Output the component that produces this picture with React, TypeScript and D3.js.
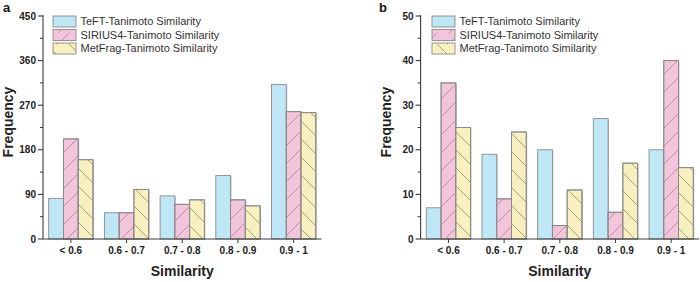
import React from "react";
import * as d3 from "d3";

const categories = ["< 0.6", "0.6 - 0.7", "0.7 - 0.8", "0.8 - 0.9", "0.9 - 1"];
const seriesNames = ["TeFT-Tanimoto Similarity", "SIRIUS4-Tanimoto Similarity", "MetFrag-Tanimoto Similarity"];
const teftA = [82, 53, 87, 128, 312];
const siriusA = [202, 53, 70, 79, 257];
const metfragA = [160, 100, 79, 67, 255];
const teftB = [7, 19, 20, 27, 20];
const siriusB = [35, 9, 3, 6, 40];
const metfragB = [25, 24, 11, 17, 16];
const ticksA = [0, 90, 180, 270, 360, 450];
const ticksB = [0, 10, 20, 30, 40, 50];

const fills = ["#bfe7f5", "#f3c5db", "#f9f0bf"];
const patterns = [null, "hatchFwd", "hatchBack"];
const axisColor = "#3a3a3a";

type PanelProps = {
  label: string;
  x0: number;
  x1: number;
  data: number[][];
  ticks: number[];
  max: number;
  labelX: number;
  legendX: number;
};

function Panel({ label, x0, x1, data, ticks, max, labelX, legendX }: PanelProps) {
  const yTop = 16;
  const yBot = 239;
  const x = d3.scaleBand<string>().domain(categories).range([x0, x1]).padding(0);
  const inner = d3.scaleBand<number>().domain([0, 1, 2]).range([0, x.bandwidth() * 0.795]);
  const y = d3.scaleLinear().domain([0, max]).range([yBot, yTop]);
  const minor = d3.range(0, ticks.length - 1).map((i) => (ticks[i] + ticks[i + 1]) / 2);
  const groupOff = (x.bandwidth() - x.bandwidth() * 0.795) / 2;
  return (
    <g>
      <text x={labelX} y={12} fontFamily="Liberation Sans, Arial, sans-serif" fontWeight="bold" fontSize={13} fill="#111">
        {label}
      </text>
      {data.map((series, si) =>
        series.map((v, ci) => {
          const bx = (x(categories[ci]) as number) + groupOff + (inner(si) as number);
          const bw = inner.bandwidth();
          const by = y(v);
          const bh = yBot - by;
          return (
            <g key={`${si}-${ci}`}>
              <rect x={bx + 1} y={by + 1} width={bw} height={bh - 1} fill="#c8c8c8" />
              <rect x={bx} y={by} width={bw} height={bh} fill={fills[si]} stroke="#8a8a8a" strokeWidth={0.9} />
              {patterns[si] && (
                <rect x={bx} y={by} width={bw} height={bh} fill={`url(#${patterns[si]})`} stroke="#8a8a8a" strokeWidth={0.9} />
              )}
            </g>
          );
        })
      )}
      <line x1={x0} x2={x0} y1={yTop - 1} y2={yBot} stroke={axisColor} strokeWidth={1.1} />
      <line x1={x0} x2={x1} y1={yBot} y2={yBot} stroke={axisColor} strokeWidth={1.1} />
      {ticks.map((t) => (
        <g key={t}>
          <line x1={x0 - 5} x2={x0} y1={y(t)} y2={y(t)} stroke={axisColor} strokeWidth={1.1} />
          <text
            x={x0 - 7}
            y={y(t)}
            dy="0.35em"
            textAnchor="end"
            fontFamily="Liberation Sans, Arial, sans-serif"
            fontWeight="bold"
            fontSize={10}
            fill="#222"
          >
            {t}
          </text>
        </g>
      ))}
      {minor.map((t) => (
        <line key={`m${t}`} x1={x0 - 3} x2={x0} y1={y(t)} y2={y(t)} stroke={axisColor} strokeWidth={1} />
      ))}
      {categories.map((c) => {
        const cx = (x(c) as number) + x.bandwidth() / 2;
        return (
          <g key={c}>
            <line x1={cx} x2={cx} y1={yBot} y2={yBot + 4} stroke={axisColor} strokeWidth={1} />
            <text
              x={cx}
              y={254}
              textAnchor="middle"
              fontFamily="Liberation Sans, Arial, sans-serif"
              fontWeight="bold"
              fontSize={10}
              fill="#222"
            >
              {c}
            </text>
          </g>
        );
      })}
      <text
        x={(x0 + x1) / 2}
        y={276}
        textAnchor="middle"
        fontFamily="Liberation Sans, Arial, sans-serif"
        fontWeight="bold"
        fontSize={14}
        fill="#222"
      >
        Similarity
      </text>
      <text
        transform={`translate(${x0 - 30},122) rotate(-90)`}
        textAnchor="middle"
        fontFamily="Liberation Sans, Arial, sans-serif"
        fontWeight="bold"
        fontSize={14}
        fill="#222"
      >
        Frequency
      </text>
      {seriesNames.map((n, i) => {
        const ly = 16 + i * 13.5;
        return (
          <g key={n}>
            <rect x={legendX} y={ly} width={23} height={11} fill={fills[i]} stroke="#8a8a8a" strokeWidth={0.9} />
            {patterns[i] && <rect x={legendX} y={ly} width={23} height={11} fill={`url(#${patterns[i]}L)`} />}
            <text
              x={legendX + 27.5}
              y={ly + 5.5}
              dy="0.35em"
              fontFamily="Liberation Sans, Arial, sans-serif"
              fontSize={11}
              fill="#333"
            >
              {n}
            </text>
          </g>
        );
      })}
    </g>
  );
}

export default function App() {
  return (
    <svg
      width={700}
      height={282}
      style={{ position: "absolute", left: 0, top: 0, display: "block", background: "#fff" }}
    >
      <defs>
        <pattern id="hatchFwd" patternUnits="userSpaceOnUse" width={18} height={18}>
          <path d="M0,18 L18,0 M-4,4 L4,-4 M14,22 L22,14" stroke="#a87892" strokeWidth={0.7} />
        </pattern>
        <pattern id="hatchBack" patternUnits="userSpaceOnUse" width={18} height={18}>
          <path d="M0,0 L18,18 M-4,14 L4,22 M14,-4 L22,4" stroke="#8a8260" strokeWidth={0.7} />
        </pattern>
        <pattern id="hatchFwdL" patternUnits="userSpaceOnUse" width={23} height={11}>
          <path d="M12,11 L23,0" stroke="#a87892" strokeWidth={0.7} />
        </pattern>
        <pattern id="hatchBackL" patternUnits="userSpaceOnUse" width={23} height={11}>
          <path d="M0,0 L11,11" stroke="#8a8260" strokeWidth={0.7} />
        </pattern>
      </defs>
      <rect width={700} height={282} fill="#fff" />
      <Panel label="a" x0={43} x1={321.5} data={[teftA, siriusA, metfragA]} ticks={ticksA} max={450} labelX={3} legendX={53} />
      <Panel label="b" x0={420.6} x1={699} data={[teftB, siriusB, metfragB]} ticks={ticksB} max={50} labelX={379} legendX={432} />
    </svg>
  );
}
